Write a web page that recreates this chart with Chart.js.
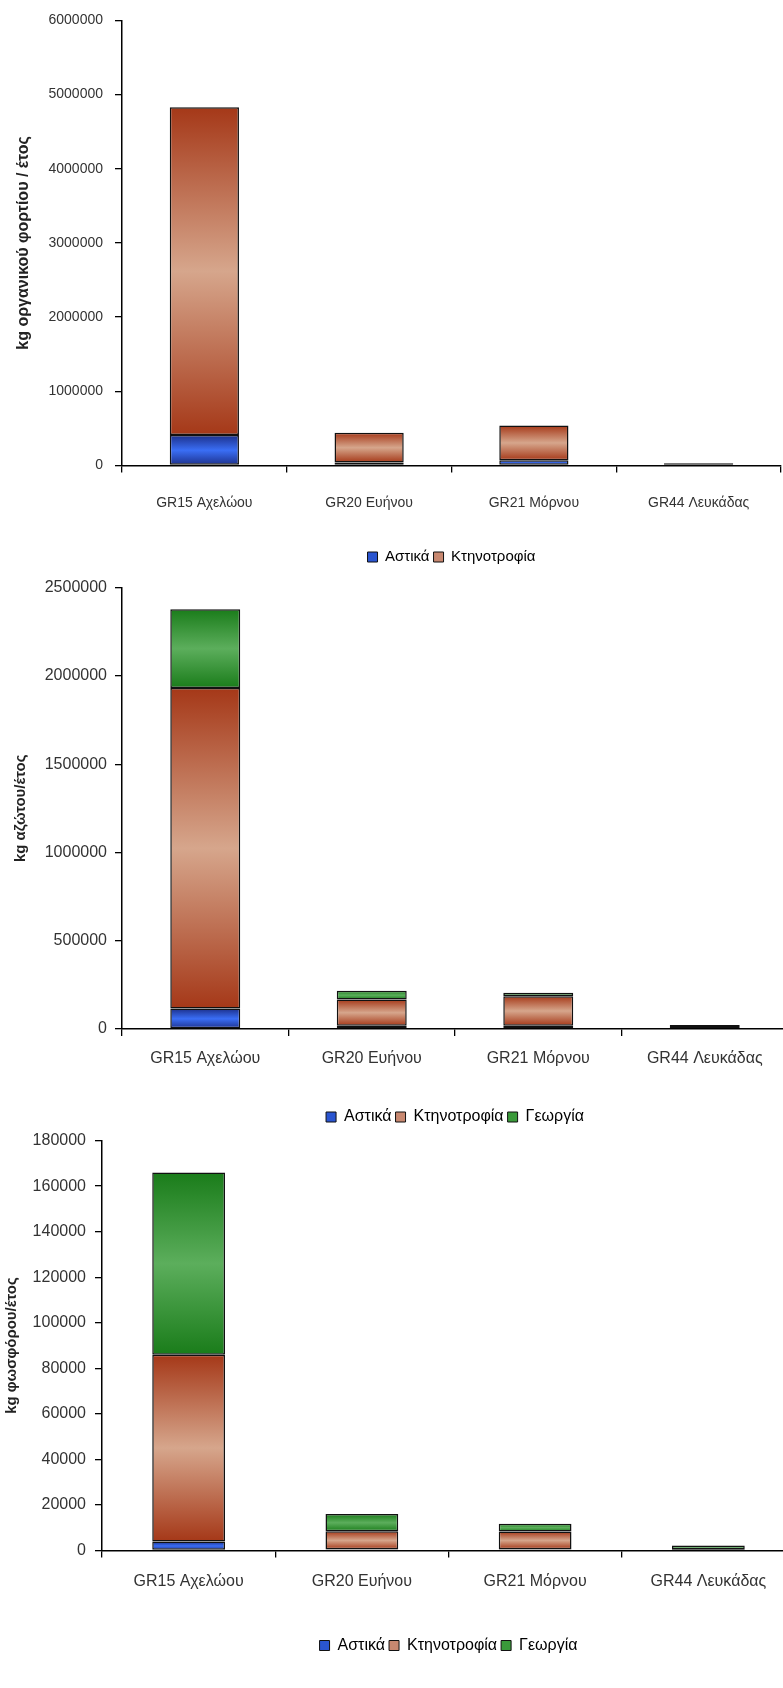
<!DOCTYPE html>
<html>
<head>
<meta charset="utf-8">
<script src="https://cdn.jsdelivr.net/npm/chart.js@4"></script>
<style>
  html, body { margin: 0; padding: 0; background: #fff; overflow: hidden; width: 783px; height: 1688px; }
  .box { position: absolute; left: 0; }
</style>
</head>
<body>
<div class="box" style="top:0px;height:578px;width:783px"><canvas id="c1"></canvas></div>
<div class="box" style="top:570px;height:566px;width:790px"><canvas id="c2"></canvas></div>
<div class="box" style="top:1122px;height:566px;width:797px"><canvas id="c3"></canvas></div>
<script>
var categories = ['GR15 Αχελώου', 'GR20 Ευήνου', 'GR21 Μόρνου', 'GR44 Λευκάδας'];

// organic load, kg / year
var bodAstika = [410000, 40000, 70000, 10000];
var bodKtino = [4420000, 400000, 470000, 20000];

// nitrogen, kg / year
var nAstika = [116000, 18000, 18000, 5000];
var nKtino = [1815000, 149000, 168000, 12000];
var nGeorgia = [447000, 49000, 19000, 6000];

// phosphorus, kg / year
var pAstika = [4000, 500, 600, 200];
var pKtino = [82000, 7900, 7700, 400];
var pGeorgia = [80000, 7600, 3500, 1600];

var blue = {edge: '#1c2f8a', mid: '#3a6ef5', flat: '#2a55d0'};
var brown = {edge: '#a53818', mid: '#d6a68c', flat: '#c88870'};
var green = {edge: '#1a7c1a', mid: '#5cae5c', flat: '#3a9a3a'};

Chart.defaults.font.family = "'Liberation Sans', Arial, sans-serif";
Chart.defaults.color = '#222';

// vertical gradient per stacked segment, dark at both ends
function segFill(pal) {
  return function(ctx) {
    var chart = ctx.chart;
    if (ctx.type !== 'data' || !chart.chartArea) return pal.flat;
    var y = chart.scales.y;
    var start = 0;
    for (var d = 0; d < ctx.datasetIndex; d++) start += chart.data.datasets[d].data[ctx.dataIndex];
    var end = start + chart.data.datasets[ctx.datasetIndex].data[ctx.dataIndex];
    var top = y.getPixelForValue(end), bot = y.getPixelForValue(start);
    if (!(bot - top > 2)) return pal.edge;
    var g = chart.ctx.createLinearGradient(0, top, 0, bot);
    g.addColorStop(0, pal.edge);
    g.addColorStop(0.5, pal.mid);
    g.addColorStop(1, pal.edge);
    return g;
  };
}

function makeSet(label, data, pal) {
  return {
    label: label,
    data: data,
    pal: pal,
    backgroundColor: segFill(pal),
    borderColor: '#111',
    borderWidth: 1.5,
    borderSkipped: false,
    barPercentage: 0.42,
    categoryPercentage: 1
  };
}

function stackChart(id, sets, o) {
  return new Chart(document.getElementById(id), {
    type: 'bar',
    data: { labels: categories, datasets: sets },
    options: {
      animation: false,
      responsive: true,
      maintainAspectRatio: false,
      layout: { padding: { top: o.padTop, bottom: o.padBottom, left: 0, right: 2 } },
      scales: {
        x: {
          stacked: true,
          grid: { drawOnChartArea: false, color: '#000', tickLength: 7, lineWidth: 1.3 },
          border: { color: '#000', width: 1.5 },
          ticks: { padding: o.xPad, font: { size: o.fs }, color: '#333', maxRotation: 0 },
          afterFit: function(s) { s.height = o.xh; }
        },
        y: {
          stacked: true,
          min: 0,
          max: o.yMax,
          ticks: {
            stepSize: o.step, padding: o.yPad, font: { size: o.fs }, color: '#333',
            callback: function(v) { return String(v); }
          },
          grid: { drawOnChartArea: false, color: '#000', tickLength: 7, lineWidth: 1.3 },
          border: { color: '#000', width: 1.5 },
          title: { display: true, text: o.title, font: { size: o.titleSize, weight: 'bold' }, color: '#222', padding: { top: o.titlePad, bottom: 0 } },
          afterFit: function(s) { s.width = o.yw; }
        }
      },
      plugins: {
        tooltip: { enabled: false },
        legend: {
          position: 'bottom',
          fullSize: false,
          labels: {
            boxWidth: 10,
            boxHeight: 10,
            padding: 4,
            font: { size: o.legendSize },
            color: '#222',
            generateLabels: function(chart) {
              return chart.data.datasets.map(function(ds, i) {
                return { text: ds.label, fillStyle: ds.pal.flat, strokeStyle: '#111', lineWidth: 1, datasetIndex: i };
              });
            }
          }
        }
      }
    }
  });
}

stackChart('c1', [
  makeSet('Αστικά', bodAstika, blue),
  makeSet('Κτηνοτροφία', bodKtino, brown)
], { yMax: 6000000, step: 1000000, title: 'kg οργανικού φορτίου / έτος', titleSize: 16, yw: 122, titlePad: 14, yPad: 12,
     xPad: 22, xh: 80, padTop: 19, padBottom: 3.5, fs: 14, legendSize: 15 });

stackChart('c2', [
  makeSet('Αστικά', nAstika, blue),
  makeSet('Κτηνοτροφία', nKtino, brown),
  makeSet('Γεωργία', nGeorgia, green)
], { yMax: 2500000, step: 500000, title: 'kg αζώτου/έτος', titleSize: 15, yw: 122, titlePad: 12, yPad: 8,
     xPad: 13, xh: 76, padTop: 10, padBottom: 1, fs: 16, legendSize: 16 });

stackChart('c3', [
  makeSet('Αστικά', pAstika, blue),
  makeSet('Κτηνοτροφία', pKtino, brown),
  makeSet('Γεωργία', pGeorgia, green)
], { yMax: 180000, step: 20000, title: 'kg φωσφόρου/έτος', titleSize: 15, yw: 102, titlePad: 3, yPad: 9,
     xPad: 14, xh: 83, padTop: 11, padBottom: 24.5, fs: 16, legendSize: 16 });
</script>
</body>
</html>
